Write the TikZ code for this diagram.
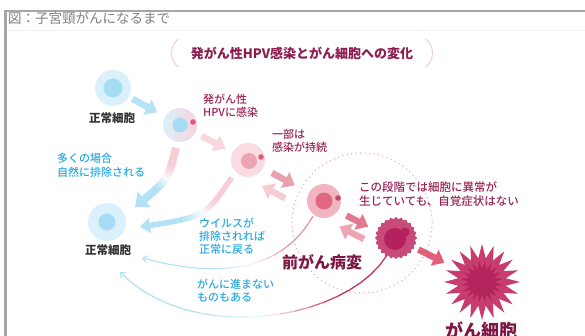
\documentclass[tikz,border=0pt]{standalone}
\usepackage{fontspec}
\setmainfont{Noto Sans CJK JP}
\newfontfamily\medium{Noto Sans CJK JP Medium}
\usetikzlibrary{arrows.meta,calc}

\definecolor{framegray}{HTML}{A6A6A6}
\definecolor{captgray}{HTML}{808080}
\definecolor{titlecol}{HTML}{8C1D4E}
\definecolor{parcol}{HTML}{F2C4CF}
\definecolor{cellblue}{HTML}{DAF0FA}
\definecolor{nucblue}{HTML}{A6DDF5}
\definecolor{infpink}{HTML}{F7D4DC}
\definecolor{dotpink}{HTML}{E4587A}
\definecolor{perpink}{HTML}{F8DCE2}
\definecolor{pernuc}{HTML}{EDA3B2}
\definecolor{prepink}{HTML}{F2B4C1}
\definecolor{prenuc}{HTML}{E06783}
\definecolor{dyscol}{HTML}{C84A78}
\definecolor{dysnuc}{HTML}{B5215E}
\definecolor{cacol}{HTML}{C93D6E}
\definecolor{canuc}{HTML}{B3245D}
\definecolor{dotcol}{HTML}{E9A9B9}
\definecolor{magtxt}{HTML}{9A2455}
\definecolor{darkmag}{HTML}{7E1744}
\definecolor{bluetxt}{HTML}{27A8E0}
\definecolor{graytxt}{HTML}{333333}
\definecolor{lineblue}{HTML}{B3E2F6}
\definecolor{bandpink}{HTML}{F6CDD5}
\definecolor{linepink}{HTML}{E88FA3}
\definecolor{linered}{HTML}{C2305E}
\definecolor{a12col}{HTML}{B5E3F7}
\definecolor{a23col}{HTML}{F8D7DD}
\definecolor{a34col}{HTML}{EBA0AE}
\definecolor{a43col}{HTML}{F5CCD4}
\definecolor{a45col}{HTML}{E47A90}
\definecolor{a54col}{HTML}{EFA6B4}
\definecolor{a5ccol}{HTML}{E0607A}

% curve cut in 20 pieces, start colour -> white -> light blue
\newcommand\gradpath[4]{%
  \foreach \i in {0,...,20}{%
    \pgfmathsetmacro\tp{\i/20}%
    \path #3 coordinate[pos=\tp] (g\i);
  }%
  \foreach \i in {0,...,18}{%
    \pgfmathtruncatemacro\j{\i+1}%
    \pgfmathtruncatemacro\pk{max(0,min(100,(9.5-\i)*20))}%
    \pgfmathtruncatemacro\bl{100-max(0,min(100,(\i-8.5)*20))}%
    \draw[line width=#1, line cap=butt, #2!\pk!white!\bl!lineblue] (g\i) -- (g\j);
  }%
  \draw[line width=#1, line cap=butt, lineblue, #4] (g19) -- (g20);
}

\begin{document}
\begin{tikzpicture}[x=1pt, y=-1pt, line join=round,
  cell/.style={circle, minimum size=#1, inner sep=0pt},
  fat/.style={line width=6.5pt, -{Triangle[length=11pt,width=17pt]}},
  jtxt/.style={font=\medium\fontsize{11}{13}\selectfont, align=left, anchor=west, inner sep=0pt}]
  \useasboundingbox (0,0) rectangle (585,336);
  \clip (0,0) rectangle (585,336);

  % frame and caption
  \fill[framegray] (4,10) rectangle (585,12);
  \fill[framegray] (4,10) rectangle (7,336);
  \draw[black!7] (7,30) -- (585,30);
  \node[anchor=west, inner sep=0pt, text=captgray, font=\fontsize{13.5}{15}\selectfont] (capt) at (8,18) {図：子宮頸がんになるまで};

  % title in round brackets
  \node[font=\bfseries\fontsize{13}{15}\selectfont, text=titlecol] (title) at (302,53) {発がん性HPV感染とがん細胞への変化};
  \draw[parcol, line width=0.8pt] ($(title.west)+(-9,-14)$) .. controls +(-9,7) and +(-9,-7) .. ($(title.west)+(-9,14)$);
  \draw[parcol, line width=0.8pt] ($(title.east)+(9,-14)$) .. controls +(9,7) and +(9,-7) .. ($(title.east)+(9,14)$);

  % pre-cancer zone
  \draw[dotcol, line width=1.5pt, line cap=round, dash pattern=on 0pt off 4.5pt] (362,223) circle (70);

  % cells
  \node[cell=36, fill=cellblue] (n1) at (113,88) {};
  \fill[nucblue] (n1) circle (9.5);
  \node[cell=34, left color=cellblue, middle color=white, right color=infpink] (inf) at (180,125) {};
  \fill[nucblue] (inf) circle (7.5);
  \fill[dotpink] ($(inf)+(13,-3)$) circle (2.8);
  \node[cell=34, fill=perpink] (per) at (248,160) {};
  \fill[pernuc] ($(per)+(1,1)$) circle (8);
  \fill[dotpink] ($(per)+(13,-3)$) circle (2.8);
  \node[cell=34, fill=prepink] (pre) at (324,201) {};
  \fill[prenuc] (pre) circle (8.5);
  \fill[dotpink!85!black] ($(pre)+(14,-3)$) circle (2.8);
  \node[cell=40] (dys) at (396,238) {};
  \fill[dyscol, shift={(dys)}] plot[domain=0:360, samples=121] (\x:{20+1*cos(24*\x)}) -- cycle;
  \fill[dysnuc] ($(dys)+(-1,1)$) circle (11);
  \fill[dysnuc] ($(dys)+(9,-6)$) circle (4.5);
  \node[cell=62] (ca) at (482,282) {};
  \fill[cacol, shift={(ca)}] plot[domain=0:360, samples=41] (\x:{31+7*cos(20*\x)}) -- cycle;
  \fill[canuc, shift={(ca)}, rotate=9] plot[domain=0:360, samples=41] (\x:{17+4*cos(20*\x)}) -- cycle;
  \node[cell=38, fill=cellblue] (n2) at (107,222) {};
  \fill[nucblue] (n2) circle (8.5);

  % steps between the cells
  \draw[fat, a12col, shorten <=4pt, shorten >=9pt] (n1) -- (inf);
  \draw[fat, a23col, shorten <=7pt, shorten >=8pt] (inf) -- (per);
  \draw[fat, a34col, shorten <=10pt, shorten >=16pt] (per) -- (pre);
  \draw[fat, a43col, shorten <=18pt, shorten >=8pt, transform canvas={shift={(-8,14)}}] (pre) -- (per);
  \draw[fat, a45col, shorten <=8pt, shorten >=11pt, transform canvas={shift={(0,3)}}] (pre) -- (dys);
  \draw[fat, a54col, shorten <=8pt, shorten >=8pt, transform canvas={shift={(-7,14)}}] (dys) -- (pre);
  \draw[fat, a5ccol, shorten <=5pt, shorten >=11pt] (dys) -- (ca);

  % ways back to a normal cell
  \coordinate (t1) at (135,207);
  \coordinate (t2) at (140,227);
  \coordinate (t3) at (142,258);
  \coordinate (t4) at (120,272);
  \gradpath{8pt}{bandpink}{($(inf)!1.35!(inf.260)$) .. controls (168,180) .. (t1)}{-{Triangle[length=12pt,width=20pt]}}
  \gradpath{5.5pt}{bandpink}{($(per)!1.4!(per.227)$) .. controls (205,217) .. (t2)}{-{Triangle[length=10pt,width=15pt]}}
  \gradpath{1.2pt}{linepink}{($(pre)!1.1!(pre.234)$) .. controls (285,265) and (230,282) .. (t3)}{-{Straight Barb[length=4pt,width=7pt]}}
  \gradpath{1.3pt}{linered}{(dys.242) .. controls (345,322) and (190,345) .. (t4)}{-{Straight Barb[length=4pt,width=7pt]}}

  % labels
  \node[font=\bfseries\fontsize{11.5}{13}\selectfont, text=graytxt, inner sep=0pt] (n1lab) at (112,118) {正常細胞};
  \node[font=\bfseries\fontsize{11.5}{13}\selectfont, text=graytxt, inner sep=0pt] (n2lab) at (108,250) {正常細胞};
  \node[jtxt, text=magtxt] (inflab) at (203,106) {発がん性\\HPVに感染};
  \node[jtxt, text=magtxt] (perlab) at (272,141) {一部は\\感染が持続};
  \node[jtxt, text=magtxt, font=\medium\fontsize{11.5}{14}\selectfont] (zonelab) at (359,194) {この段階では細胞に異常が\\生じていても、自覚症状はない};
  \node[jtxt, text=bluetxt, font=\medium\fontsize{11}{14}\selectfont] (elimlab) at (57,165) {多くの場合\\自然に排除される};
  \node[jtxt, text=bluetxt] (backlab) at (199,236) {ウイルスが\\排除されれば\\正常に戻る};
  \node[jtxt, text=bluetxt] (staylab) at (197,291) {がんに進まない\\ものもある};
  \node[font=\bfseries\fontsize{16}{18}\selectfont, text=darkmag, inner sep=0pt] (prelab) at (322,262) {前がん病変};
  \node[font=\bfseries\fontsize{18}{20}\selectfont, text=darkmag, inner sep=0pt] (calab) at (481,330) {がん細胞};
\end{tikzpicture}
\end{document}
